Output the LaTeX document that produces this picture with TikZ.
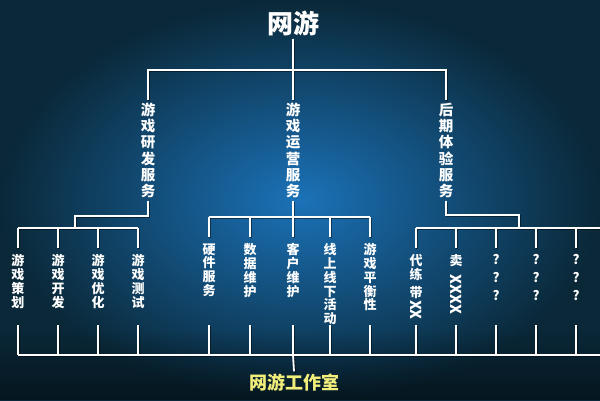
\documentclass[tikz,border=0pt]{standalone}
\usepackage{fontspec}
\newfontfamily\cjk{Noto Sans CJK SC}
\usetikzlibrary{fadings}
\definecolor{bgcenter}{HTML}{1B72B8}
\definecolor{bgedge}{HTML}{0A2838}
\definecolor{titleyellow}{HTML}{F2EE7A}
\tikzfading[name=fadedown, top color=transparent!100, bottom color=transparent!0]
\tikzset{
  wire/.style={draw=white, line width=1.8pt,
    preaction={draw=black, draw opacity=0.45, line width=1.8pt,
      transform canvas={shift={(1.2pt,-1.2pt)}}}},
  lvtwo/.style={font=\cjk\bfseries\fontsize{14.5}{16.2}\selectfont, text=white,
    align=center, anchor=north, inner sep=1pt, outer sep=2pt},
  lvthree/.style={font=\cjk\bfseries\fontsize{13}{13.8}\selectfont, text=white,
    align=center, anchor=north, inner sep=1.5pt, outer sep=5pt},
  toptitle/.style={font=\cjk\bfseries\fontsize{26}{28}\selectfont, text=white,
    inner sep=1pt, outer sep=2pt},
  bottitle/.style={font=\cjk\bfseries\fontsize{18}{20}\selectfont, text=titleyellow,
    inner sep=1pt, outer sep=2pt}
}
\newcommand{\sidex}[1]{\rotatebox{-90}{\fontsize{15}{15}\selectfont #1}}
\begin{document}
\begin{tikzpicture}[x=1pt,y=-1pt]
\useasboundingbox (0,0) rectangle (600,400);
\shade[inner color=bgcenter, outer color=bgedge] (0,0) rectangle (600,400);
\fill[black, opacity=0.45, path fading=fadedown] (0,330) rectangle (600,400);

% titles
\node[toptitle] (T) at (293,23) {网游};
\node[bottitle] (W) at (294,383) {网游工作室};

% level 2
\node[lvtwo] (A) at (148,100) {游\\戏\\研\\发\\服\\务};
\node[lvtwo] (B) at (293,100) {游\\戏\\运\\营\\服\\务};
\node[lvtwo] (C) at (446,100) {后\\期\\体\\验\\服\\务};

% level 3 left
\node[lvthree] (L1) at (18,248) {游\\戏\\策\\划};
\node[lvthree] (L2) at (58,248) {游\\戏\\开\\发};
\node[lvthree] (L3) at (98,248) {游\\戏\\优\\化};
\node[lvthree] (L4) at (138,248) {游\\戏\\测\\试};
% level 3 middle
\node[lvthree] (M1) at (209,237) {硬\\件\\服\\务};
\node[lvthree] (M2) at (250,237) {数\\据\\维\\护};
\node[lvthree] (M3) at (293,237) {客\\户\\维\\护};
\node[lvthree] (M4) at (330,237) {线\\上\\线\\下\\活\\动};
\node[lvthree] (M5) at (370,237) {游\\戏\\平\\衡\\性};
% level 3 right
\node[lvthree] (R1) at (416,248) {代\\练\\[4pt]带\\[-11pt]\sidex{XX}};
\node[lvthree] (R2) at (456,248) {卖\\[-4.8pt]\sidex{XXXX}};
\node[lvthree] (R3) at (496,248) {?\\[4pt]?\\[4pt]?};
\node[lvthree] (R4) at (536,248) {?\\[4pt]?\\[4pt]?};
\node[lvthree] (R5) at (576,248) {?\\[4pt]?\\[4pt]?};

% junction coordinates
\coordinate (busTop) at (293,70);
\coordinate (jL) at (75,216);
\coordinate (busM) at (0,217);
\coordinate (jR) at (519,215);
\coordinate (busThree) at (0,228);
\coordinate (edgeR) at (600,228);
\coordinate (stubTop) at (0,325);
\coordinate (busB) at (0,355);
\coordinate (edgeB) at (600,355);

% top tree
\draw[wire] (T.south) -- (T.south|-busTop);
\draw[wire] (A.north) -- (A.north|-busTop) -- (C.north|-busTop) -- (C.north);
\draw[wire] (B.north|-busTop) -- (B.north);

% left branch
\draw[wire] (A.south) -- (A.south|-jL) -- (jL) -- (jL|-busThree);
\draw[wire] (L1.north|-busThree) -- (L4.north|-busThree);
\foreach \n in {L1,L2,L3,L4} \draw[wire] (\n.north|-busThree) -- (\n.north);

% middle branch
\draw[wire] (B.south) -- (B.south|-busM);
\draw[wire] (M1.north|-busM) -- (M5.north|-busM);
\foreach \n in {M1,M2,M3,M4,M5} \draw[wire] (\n.north|-busM) -- (\n.north);

% right branch
\draw[wire] (C.south) -- (C.south|-jR) -- (jR) -- (jR|-busThree);
\draw[wire] (R1.north|-busThree) -- (edgeR);
\foreach \n in {R1,R2,R3,R4,R5} \draw[wire] (\n.north|-busThree) -- (\n.north);

% bottom
\foreach \n in {L1,L2,L3,L4,M1,M2,M3,M4,M5,R1,R2,R3,R4,R5}
  \draw[wire] (\n.north|-stubTop) -- (\n.north|-busB);
\draw[wire] (L1.north|-busB) -- (edgeB);
\draw[wire] (M3.north|-busB) -- (W.north);
\end{tikzpicture}
\end{document}
